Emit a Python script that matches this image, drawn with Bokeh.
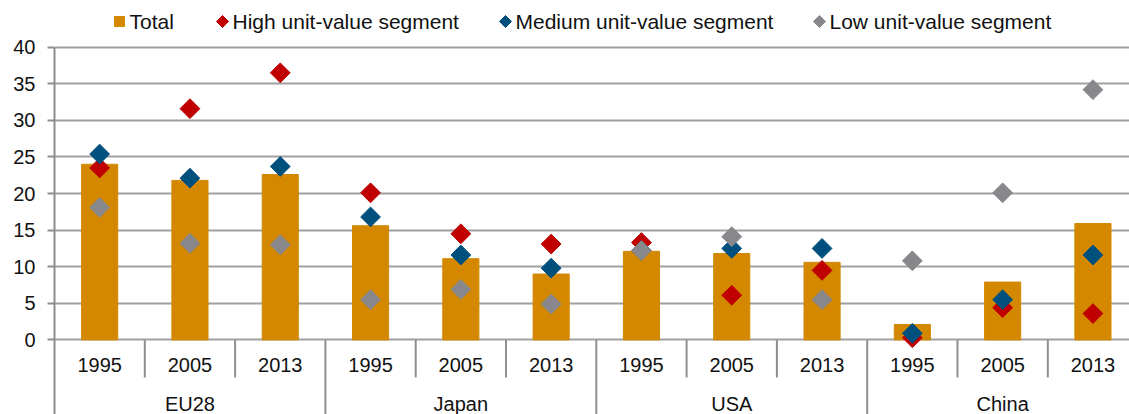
import math
from bokeh.plotting import figure
from bokeh.models import Range1d, FixedTicker, ColumnDataSource
from bokeh.core.properties import value
from bokeh.embed import file_html
from bokeh.resources import INLINE

# ---- data ----
regions = ["EU28", "Japan", "USA", "China"]
years = ["1995", "2005", "2013"]
total = [24.0, 21.8, 22.6, 15.6, 11.1, 9.0, 12.1, 11.8, 10.6, 2.1, 7.9, 15.9]
high = [23.5, 31.6, 36.5, 20.1, 14.5, 13.1, 13.3, 6.1, 9.5, 0.3, 4.4, 3.6]
medium = [25.4, 22.1, 23.7, 16.8, 11.6, 9.8, 12.2, 12.5, 12.5, 0.9, 5.5, 11.6]
low = [18.1, 13.2, 13.0, 5.5, 6.9, 4.9, 12.2, 14.1, 5.5, 10.8, 20.1, 34.2]
y_ticks = [0, 5, 10, 15, 20, 25, 30, 35, 40]
series_names = ["Total", "High unit-value segment", "Medium unit-value segment", "Low unit-value segment"]

# ---- styles / layout ----
ORANGE = "#D38800"
RED = "#C00000"
BLUE = "#00507D"
GREY = "#88888C"
AXIS = "#8E8E8E"
GRID = "#A0A0A0"
TXT = "#111111"
FONT = "Liberation Sans"
FS = "20px"
LFS = "21px"

W, H = 1129, 414
LEFT = 54            # page x of the value axis
CAT_PX = 90.3        # width of one category in px
ZERO_PY = 339.4      # page y of value 0
PX_PER_UNIT = 292.7 / 40.0

n_cat = len(regions) * len(years)


def px2x(px):
    return (px - LEFT) / CAT_PX


def py2y(py):
    return (ZERO_PY - py) / PX_PER_UNIT


x_end = px2x(W)
y_top = py2y(0)
y_bottom = py2y(H)

x = [i + 0.5 for i in range(n_cat)]
year_labels = [y for _ in regions for y in years]
src = ColumnDataSource(dict(x=x, total=total, high=high, medium=medium, low=low, year=year_labels))

p = figure(width=W, height=H, output_backend="svg", toolbar_location=None,
           x_range=Range1d(0, x_end), y_range=Range1d(y_bottom, y_top),
           x_axis_type=None, min_border_left=LEFT, min_border_right=0,
           min_border_top=0, min_border_bottom=0)
p.outline_line_color = None
p.background_fill_color = "white"
p.border_fill_color = "white"

# value axis
ya = p.yaxis[0]
ya.ticker = FixedTicker(ticks=y_ticks)
ya.bounds = (y_bottom, max(y_ticks))
ya.axis_line_color = AXIS
ya.axis_line_width = 2
ya.major_tick_line_color = AXIS
ya.major_tick_line_width = 2
ya.major_tick_out = 7
ya.major_tick_in = 0
ya.minor_tick_line_color = None
ya.major_label_standoff = 12
ya.major_label_text_font = FONT
ya.major_label_text_font_size = FS
ya.major_label_text_color = TXT

p.xgrid.visible = False
p.ygrid.grid_line_color = GRID
p.ygrid.grid_line_width = 2
p.ygrid.ticker = FixedTicker(ticks=y_ticks)

# bars and markers
p.vbar(x="x", top="total", width=0.4, source=src, fill_color=ORANGE, line_color=ORANGE)
for col, c in (("high", RED), ("medium", BLUE), ("low", GREY)):
    p.scatter(x="x", y=col, source=src, marker="square", angle=math.pi / 4, size=14,
              fill_color=c, line_color=c)

# category axis below zero
bounds = list(range(1, n_cat))
short_b = [b for b in bounds if b % len(years) != 0]
long_b = [b for b in bounds if b % len(years) == 0]
p.segment(x0=short_b, y0=[0] * len(short_b), x1=short_b, y1=[py2y(377)] * len(short_b),
          line_color=AXIS, line_width=2)
p.segment(x0=long_b, y0=[0] * len(long_b), x1=long_b, y1=[y_bottom] * len(long_b),
          line_color=AXIS, line_width=2)
p.text(x="x", y=py2y(364), text="year", source=src, text_align="center",
       text_baseline="middle", text_font=value(FONT), text_font_size=FS, text_color=TXT)
gx = [i * len(years) + len(years) / 2 for i in range(len(regions))]
p.text(x=gx, y=[py2y(403)] * len(regions), text=regions, text_align="center",
       text_baseline="middle", text_font=value(FONT), text_font_size=FS, text_color=TXT)

# legend (drawn in the top strip)
leg_y = py2y(21)
marker_px = [119, 222, 505, 819]
p.scatter(x=[px2x(marker_px[0])], y=[leg_y], marker="square", size=10,
          fill_color=ORANGE, line_color=ORANGE)
p.scatter(x=[px2x(v) for v in marker_px[1:]], y=[leg_y] * 3, marker="square",
          angle=math.pi / 4, size=8.5, fill_color=[RED, BLUE, GREY], line_color=[RED, BLUE, GREY])
p.text(x=[px2x(v + 10) for v in marker_px], y=[leg_y] * 4, text=series_names,
       text_align="left", text_baseline="middle", text_font=value(FONT),
       text_font_size=LFS, text_color=TXT)

open("out.html", "w").write(file_html(p, INLINE))
